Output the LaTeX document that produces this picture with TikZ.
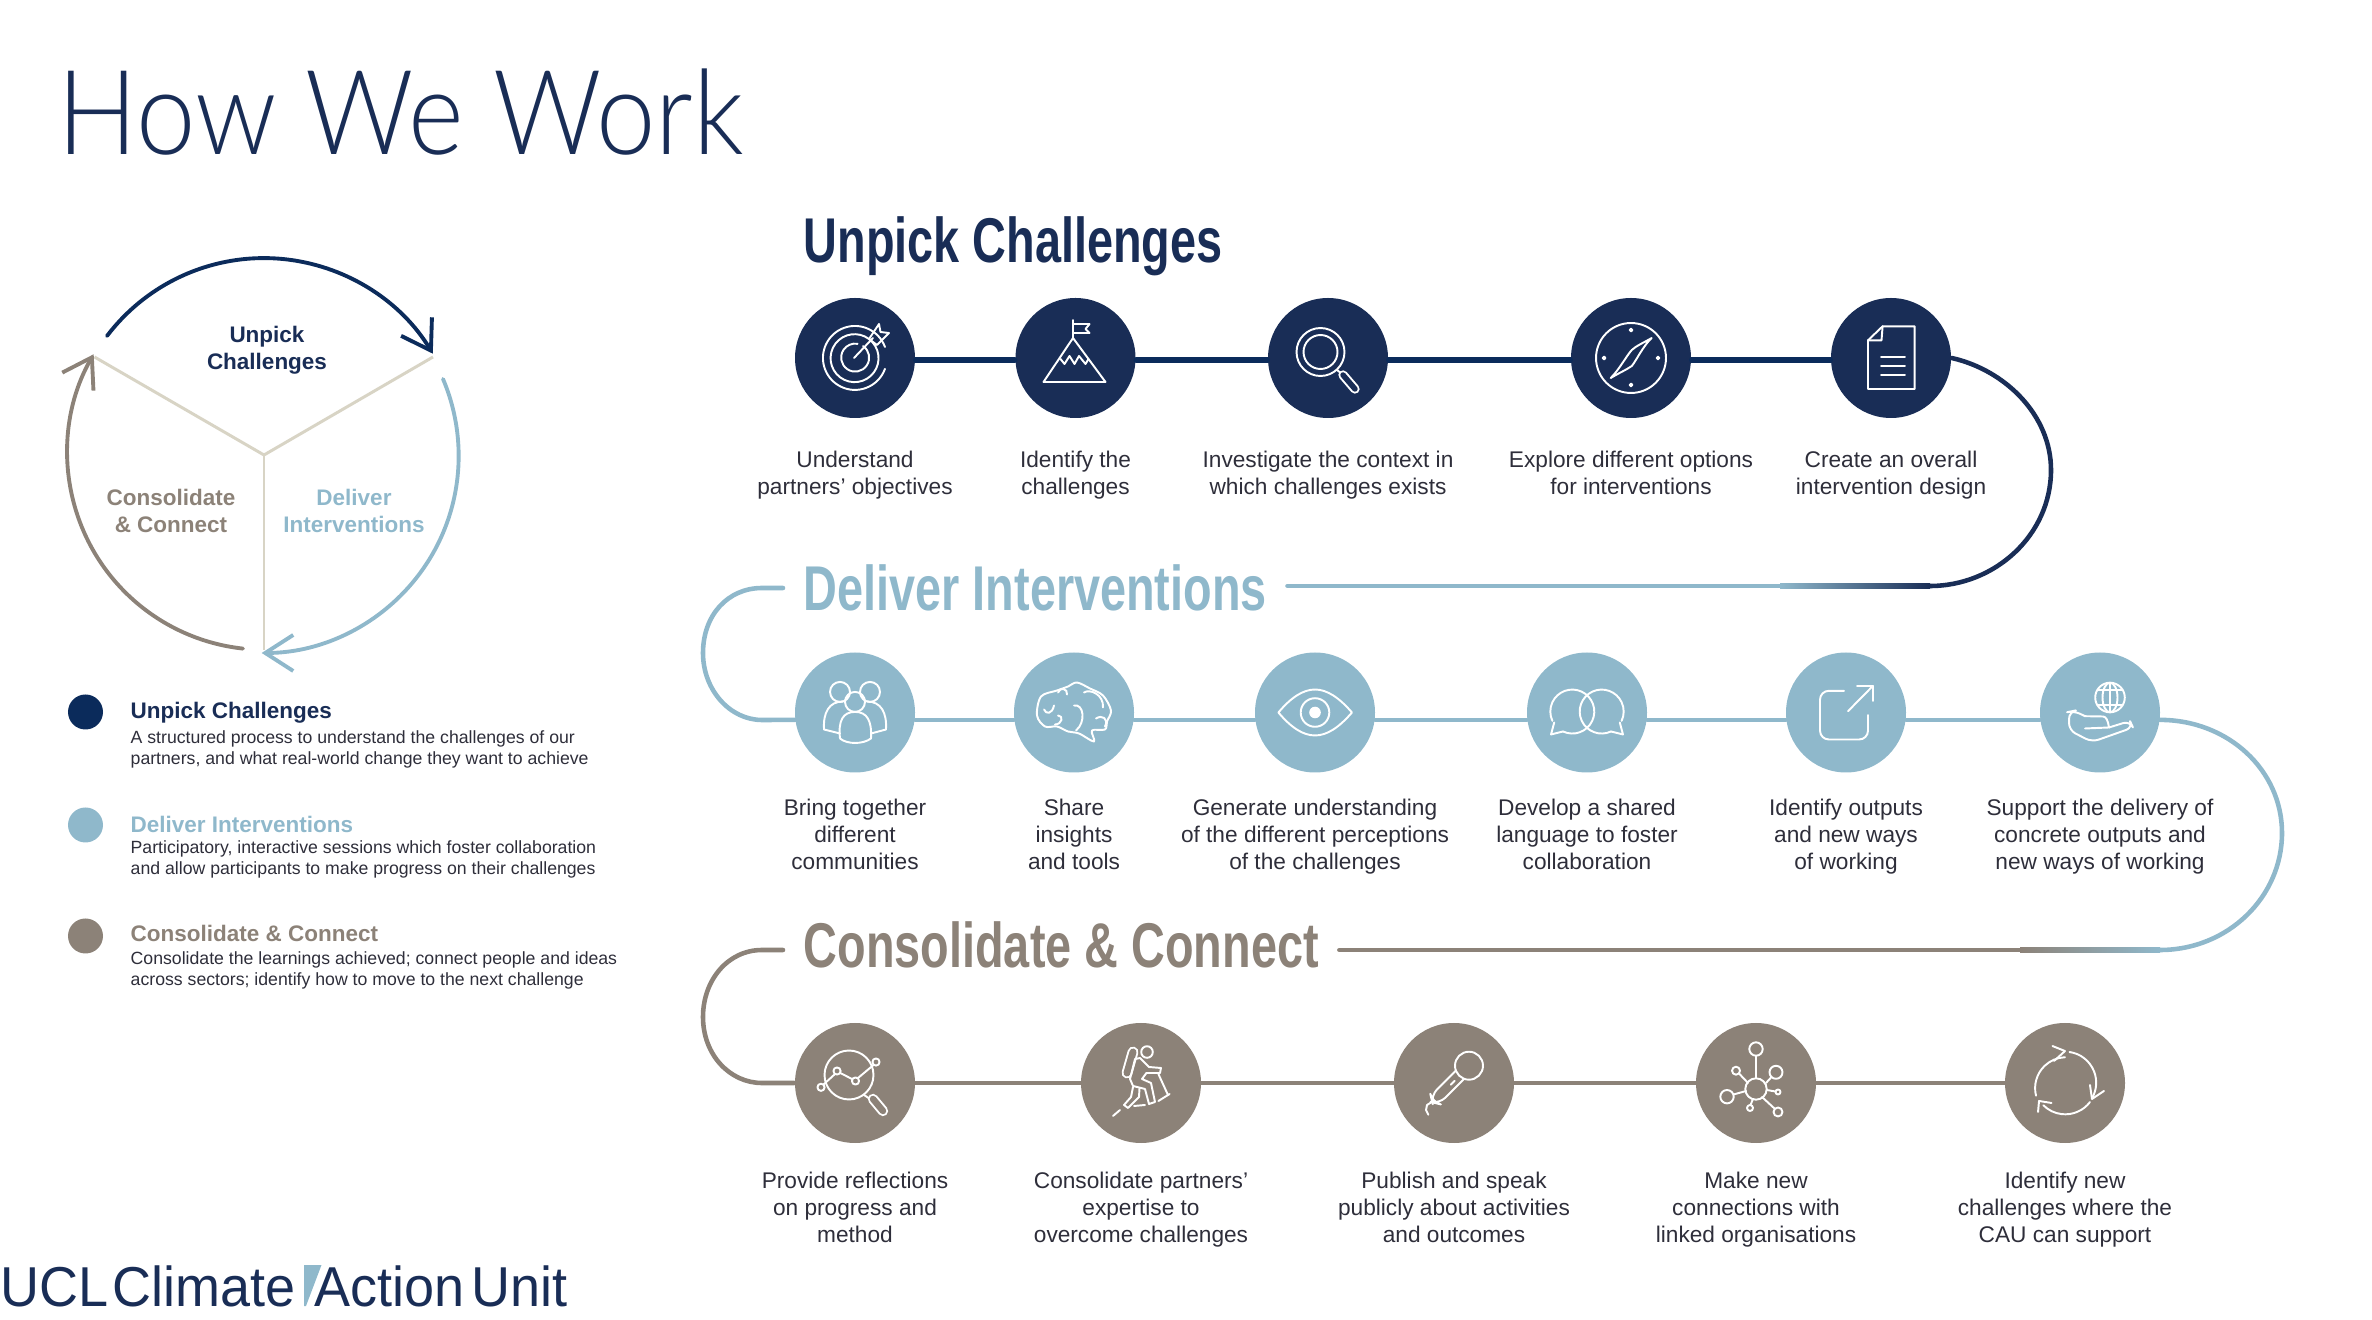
\documentclass[tikz,border=0pt]{standalone}
\usepackage{fontspec}
\usepackage{xcolor}
\usetikzlibrary{arrows.meta,positioning}
\setmainfont{Liberation Sans}
\newfontfamily\titlefont[FakeStretch=.905]{Lato Light}
\newfontfamily\headfont[FakeStretch=.74]{Liberation Sans}
\newfontfamily\logofont[FakeStretch=.96]{Liberation Sans}
\definecolor{navy}{HTML}{192D56}
\definecolor{navyline}{HTML}{0B2B5B}
\definecolor{sky}{HTML}{8FB8CB}
\definecolor{stone}{HTML}{8C8278}
\definecolor{sand}{HTML}{D8D4C5}
\definecolor{ink}{HTML}{2E2E3A}
\tikzset{
  stepdot/.style={circle, minimum size=1.2cm, inner sep=0pt, fill=#1},
  steplabel/.style={align=center, inner sep=0pt, text=ink, font=\fontsize{6.45}{7.68}\selectfont},
  heading/.style={anchor=west, inner sep=.2cm, font=\headfont\bfseries\fontsize{18}{20}\selectfont, text=#1},
  cyclelabel/.style={align=center, inner sep=0pt, text=#1, font=\bfseries\fontsize{6.4}{7.68}\selectfont},
  legendhead/.style={anchor=base west, inner sep=0pt, text=#1, font=\bfseries\fontsize{6.4}{7.68}\selectfont},
  legendtext/.style={anchor=north west, align=left, inner sep=0pt, text=ink, font=\fontsize{5.03}{5.85}\selectfont},
  legenddot/.style={circle, minimum size=.35cm, inner sep=0pt, fill=#1},
  logo/.style={anchor=base west, inner sep=0pt, text=navy, font=\logofont\fontsize{16}{18}\selectfont},
  flow/.style={draw=#1, line width=1.3pt, line cap=round},
  loopflow/.style={draw=#1, line width=1.1pt, line cap=round, -{Straight Barb[length=2.8mm, width=3.6mm, line width=1.1pt]}},
  spoke/.style={draw=sand, line width=.85pt},
  icon/.style={shift={(#1.center)}, x=.01cm, y=.01cm, white, line width=.55pt, line cap=round, line join=round},
  pill/.style={white, line width=.55pt, double=#1, double distance=.2cm, line cap=round}
}
\begin{document}
\begin{tikzpicture}[x=1cm,y=1cm]
  \useasboundingbox (0,0) rectangle (23.72,-13.2);

  \node[anchor=base west, inner sep=0pt, text=navy, font=\titlefont\fontsize{33.5}{36}\selectfont] (title) at (.57,-1.55) {How We Work};

  % cycle on the left
  \coordinate (hub) at (2.64,-4.55);
  \coordinate (hubleft) at (.945,-3.57);
  \coordinate (hubright) at (4.33,-3.57);
  \coordinate (hubdown) at (2.64,-6.5);
  \draw[spoke] (hubleft) -- (hub) -- (hubright);
  \draw[spoke] (hub) -- (hubdown);
  \coordinate (navystart) at (1.07,-3.36);
  \coordinate (skystart) at (4.43,-3.79);
  \coordinate (stonestart) at (2.43,-6.486);
  \draw[loopflow=navyline] (navystart) arc[start angle=142.8, end angle=31, radius=1.97];
  \draw[loopflow=sky] (skystart) arc[start angle=23, end angle=-90, radius=1.97];
  \draw[loopflow=stone] (stonestart) arc[start angle=263.8, end angle=150, radius=1.97];
  \node[cyclelabel=navy] (cycleunpick) at (2.67,-3.5) {Unpick\\Challenges};
  \node[cyclelabel=stone] (cycleconsolidate) at (1.71,-5.11) {Consolidate\\\& Connect};
  \node[cyclelabel=sky] (cycledeliver) at (3.54,-5.11) {Deliver\\Interventions};

  % legend
  \node[legenddot=navyline] (dotunpick) at (.855,-7.12) {};
  \node[legenddot=sky] (dotdeliver) at (.855,-8.25) {};
  \node[legenddot=stone] (dotconsolidate) at (.855,-9.36) {};
  \node[legendhead=navy] (legunpick) at (1.3,-7.19) {Unpick Challenges};
  \node[legendtext] (txtunpick) at (1.3,-7.3) {A structured process to understand the challenges of our\\partners, and what real-world change they want to achieve};
  \node[legendhead=sky] (legdeliver) at (1.3,-8.33) {Deliver Interventions};
  \node[legendtext] (txtdeliver) at (1.3,-8.4) {Participatory, interactive sessions which foster collaboration\\and allow participants to make progress on their challenges};
  \node[legendhead=stone] (legconsolidate) at (1.3,-9.41) {Consolidate \& Connect};
  \node[legendtext] (txtconsolidate) at (1.3,-9.51) {Consolidate the learnings achieved; connect people and ideas\\across sectors; identify how to move to the next challenge};

  % logo
  \node[logo] (logoucl) at (0,-13.06) {UCL};
  \node[logo] (logoclimate) at (1.12,-13.06) {Climate};
  \fill[sky] (3.04,-12.65) -- (3.215,-12.65) -- (3.06,-13.06) -- (3.04,-13.06) -- cycle;
  \node[logo] (logoaction) at (3.14,-13.06) {Action};
  \node[logo] (logounit) at (4.71,-13.06) {Unit};

  % headings
  \node[heading=navy] (unpickhead) at (7.83,-2.465) {Unpick Challenges};
  \node[heading=sky] (deliverhead) at (7.83,-5.88) {Deliver Interventions};
  \node[heading=stone] (consolidatehead) at (7.83,-9.45) {Consolidate \& Connect};

  % first row
  \node[stepdot=navy] (target) at (8.55,-3.58) {};
  \node[stepdot=navy] (summit) at (10.755,-3.58) {};
  \node[stepdot=navy] (lens) at (13.28,-3.58) {};
  \node[stepdot=navy] (compass) at (16.31,-3.58) {};
  \node[stepdot=navy] (brief) at (18.91,-3.58) {};
  \node[steplabel, below=.32cm of target] (targetlab) {Understand\\partners' objectives};
  \node[steplabel, below=.32cm of summit] (summitlab) {Identify the\\challenges};
  \node[steplabel, below=.32cm of lens] (lenslab) {Investigate the context in\\which challenges exists};
  \node[steplabel, below=.32cm of compass] (compasslab) {Explore different options\\for interventions};
  \node[steplabel, below=.32cm of brief] (brieflab) {Create an overall\\intervention design};

  % second row
  \node[stepdot=sky] (people) at (8.55,-7.125) {};
  \node[stepdot=sky] (brain) at (10.74,-7.125) {};
  \node[stepdot=sky] (eye) at (13.15,-7.125) {};
  \node[stepdot=sky] (bubbles) at (15.87,-7.125) {};
  \node[stepdot=sky] (outputs) at (18.46,-7.125) {};
  \node[stepdot=sky] (globe) at (21.0,-7.125) {};
  \node[steplabel, below=.25cm of people] (peoplelab) {Bring together\\different\\communities};
  \node[steplabel, below=.25cm of brain] (brainlab) {Share\\insights\\and tools};
  \node[steplabel, below=.25cm of eye] (eyelab) {Generate understanding\\of the different perceptions\\of the challenges};
  \node[steplabel, below=.25cm of bubbles] (bubbleslab) {Develop a shared\\language to foster\\collaboration};
  \node[steplabel, below=.25cm of outputs] (outputslab) {Identify outputs\\and new ways\\of working};
  \node[steplabel, below=.25cm of globe] (globelab) {Support the delivery of\\concrete outputs and\\new ways of working};

  % third row
  \node[stepdot=stone] (review) at (8.55,-10.83) {};
  \node[stepdot=stone] (hiker) at (11.41,-10.83) {};
  \node[stepdot=stone] (mic) at (14.54,-10.83) {};
  \node[stepdot=stone] (network) at (17.56,-10.83) {};
  \node[stepdot=stone] (cycle) at (20.65,-10.83) {};
  \node[steplabel, below=.28cm of review] (reviewlab) {Provide reflections\\on progress and\\method};
  \node[steplabel, below=.28cm of hiker] (hikerlab) {Consolidate partners'\\expertise to\\overcome challenges};
  \node[steplabel, below=.28cm of mic] (miclab) {Publish and speak\\publicly about activities\\and outcomes};
  \node[steplabel, below=.28cm of network] (networklab) {Make new\\connections with\\linked organisations};
  \node[steplabel, below=.28cm of cycle] (cyclelab) {Identify new\\challenges where the\\CAU can support};

  % connectors
  \draw[flow=navyline, line width=1.5pt] (target.-2) -- (summit.-178);
  \draw[flow=navyline, line width=1.5pt] (summit.-2) -- (lens.-178);
  \draw[flow=navyline, line width=1.5pt] (lens.-2) -- (compass.-178);
  \draw[flow=navyline, line width=1.5pt] (compass.-2) -- (brief.-178);
  \coordinate (navyend) at (19.30,-5.86);
  \coordinate (skyfade) at (17.8,-5.86);
  \draw[flow=navy] (brief.east) .. controls (20.05,-3.70) and (20.51,-4.15) .. (20.51,-4.70) .. controls (20.51,-5.35) and (19.95,-5.86) .. (navyend);
  \draw[flow=sky] (deliverhead.east |- skyfade) -- (skyfade);
  \shade[left color=sky, right color=navy] ([yshift=-.022cm]skyfade) rectangle ([yshift=.022cm]navyend);
  \draw[flow=sky] (deliverhead.west) -- (7.62,-5.88) .. controls (7.28,-5.88) and (7.03,-6.15) .. (7.03,-6.53) .. controls (7.03,-6.9) and (7.30,-7.2) .. (7.62,-7.2) -- (people.-173);
  \draw[flow=sky] (people.-7) -- (brain.-173);
  \draw[flow=sky] (brain.-7) -- (eye.-173);
  \draw[flow=sky] (eye.-7) -- (bubbles.-173);
  \draw[flow=sky] (bubbles.-7) -- (outputs.-173);
  \draw[flow=sky] (outputs.-7) -- (globe.-173);
  \coordinate (skyend) at (21.6,-9.5);
  \coordinate (stonefade) at (20.2,-9.5);
  \draw[flow=sky] (globe.-7) .. controls (22.28,-7.2) and (22.82,-7.7) .. (22.82,-8.33) .. controls (22.82,-8.97) and (22.28,-9.5) .. (skyend);
  \draw[flow=stone] (consolidatehead.east |- stonefade) -- (stonefade);
  \shade[left color=stone, right color=sky] ([yshift=-.022cm]stonefade) rectangle ([yshift=.022cm]skyend);
  \draw[flow=stone] (consolidatehead.west |- stonefade) -- (7.62,-9.5) .. controls (7.28,-9.5) and (7.03,-9.8) .. (7.03,-10.17) .. controls (7.03,-10.55) and (7.30,-10.83) .. (7.62,-10.83) -- (review);
  \draw[flow=stone] (review) -- (hiker);
  \draw[flow=stone] (hiker) -- (mic);
  \draw[flow=stone] (mic) -- (network);
  \draw[flow=stone] (network) -- (cycle);

  % icons, first row
  \begin{scope}[icon=target]
    \draw (30,11) arc[start angle=20, end angle=340, radius=32] ;
    \draw (14,19) arc[start angle=53, end angle=-307, radius=24];
    \draw (8,12) arc[start angle=56, end angle=-280, radius=14];
    \draw (-1,0) -- (18,20);
    \draw (14,19) -- (24,34) -- (25.5,26) -- (34,25) -- (22,13) -- cycle;
  \end{scope}
  \begin{scope}[icon=summit]
    \draw (-2.5,20) -- (-32,-24) -- (30,-24) -- cycle;
    \draw (-2.5,20) -- (-2.5,38);
    \draw (-2.5,34) -- (14,34) -- (10,29) -- (14,25) -- (-2.5,25);
    \draw (-15,-1) -- (-11,-6) -- (-6,2) -- (-1,-6) -- (3.5,2) -- (10,-6) -- (13,-1);
  \end{scope}
  \begin{scope}[icon=lens]
    \draw (-7.5,6) circle[radius=24];
    \draw (-7.5,6) circle[radius=17];
    \draw (9,-12) -- (14,-16);
    \draw[pill=navy, double distance=.055cm] (15,-17) -- (27,-31);
  \end{scope}
  \begin{scope}[icon=compass]
    \draw (0,0) circle[radius=35];
    \foreach \dotpos in {(0,28),(0,-27),(-27,0),(27,0)}
      \draw[line width=.5pt] \dotpos circle[radius=1.5];
    \draw (20.7,20) .. controls (12,15) and (5,12) .. (.8,8) .. controls (-4,3) and (-12,-12) .. (-20.3,-20) .. controls (-12,-15) and (-5,-12) .. (.8,-8) .. controls (5,-3) and (12,12) .. (20.7,20) -- cycle;
  \end{scope}
  \begin{scope}[icon=brief]
    \draw (-8.4,31.7) -- (23.7,31.7) -- (23.7,-31) -- (-23,-31) -- (-23,17.7) -- cycle;
    \draw (-8.4,31.7) -- (-9.5,17.7) -- (-23,17.7);
    \draw (-10,1) -- (14,1);
    \draw (-10,-8) -- (14,-8);
    \draw (-10,-17) -- (14,-17);
  \end{scope}

  % icons, second row
  \begin{scope}[icon=people]
    \draw (-15,20.6) circle[radius=10];
    \draw (15,20.6) circle[radius=10];
    \draw (0,10.6) circle[radius=10];
    \draw (-15,-26) .. controls (-17,-8) and (-12,.6) .. (0,.6) .. controls (12,.6) and (17,-8) .. (16,-26) .. controls (8,-32) and (-8,-32) .. (-15,-26);
    \draw (-31,-17) .. controls (-32,0) and (-26,11) .. (-12,11);
    \draw (-31,-17) -- (-15,-21);
    \draw (31,-17) .. controls (32,0) and (26,11) .. (12,11);
    \draw (31,-17) -- (16,-21);
  \end{scope}
  \begin{scope}[icon=brain]
    \draw plot[smooth cycle, tension=.55] coordinates {(-37,-3) (-33,16) (-17,22) (-6,26) (3,30) (16,24) (29,17) (37,2) (33,-9) (31,-17) (18,-18) (20,-29) (5,-21) (-6,-19) (-17,-14) (-29,-14)};
    \draw (-30,3) .. controls (-28,-2) and (-22,-2) .. (-20,7);
    \draw (-16,-3) .. controls (-10,-3) and (-12,-12) .. (-19,-12);
    \draw (0,7) .. controls (10,9) and (12,-10) .. (2,-18);
    \draw (-7,18) .. controls (-6,24) and (-14,26) .. (-16,20);
    \draw (10,20) .. controls (16,24) and (30,18) .. (29,5);
    \draw (22,-6) .. controls (28,-2) and (35,-6) .. (31,-14);
  \end{scope}
  \begin{scope}[icon=eye]
    \draw (-36.6,0) .. controls (-24,15) and (-12,23) .. (0,23) .. controls (12,23) and (24,15) .. (37,0) .. controls (24,-15) and (12,-23) .. (0,-23) .. controls (-12,-23) and (-24,-15) .. (-36.6,0) -- cycle;
    \draw (0,0) circle[radius=14.3];
    \fill (0,0) circle[radius=5.8];
  \end{scope}
  \begin{scope}[icon=bubbles]
    \draw (-24,-19) arc[start angle=-115, end angle=205, radius=22] ;
    \draw (-32.8,-10) -- (-36,-22) -- (-24,-19);
    \draw (24,-19) arc[start angle=-65, end angle=-385, radius=22];
    \draw (32.8,-10) -- (36,-22) -- (24,-19);
  \end{scope}
  \begin{scope}[icon=outputs]
    \draw[rounded corners=2.5pt] (-2,21.7) -- (-26,21.7) -- (-26,-27) -- (22,-27) -- (22,-2.7);
    \draw (2,1.3) -- (27,26.7);
    \draw (11,26.7) -- (27,26.7) -- (27,11.7);
  \end{scope}
  \begin{scope}[icon=globe]
    \draw (10,15) circle[radius=14.8];
    \draw (10,15) ellipse[x radius=7.5, y radius=14.8];
    \draw (10,29.8) -- (10,.2);
    \draw (-2.5,22.5) -- (22.5,22.5);
    \draw (-2.5,7.5) -- (22.5,7.5);
    \draw (-15,-16) -- (9,-15) .. controls (8,-8) and (6,-4) .. (3,-4) -- (-15,-3.7);
    \draw[rounded corners=2pt] (-15,-3.7) -- (-26,1.7) -- (-31,.7) -- (-31,-17.7) -- (-8,-29.5) -- (33,-15) -- (30,-8.5) -- (9,-15);
  \end{scope}

  % icons, third row
  \begin{scope}[icon=review]
    \draw (-6,8) circle[radius=24.5];
    \draw (9,-12) -- (15,-16);
    \draw[pill=stone, double distance=.065cm] (18,-16) -- (28,-28);
    \draw (-34,-4.3) circle[radius=3.6];
    \draw (-18,12) circle[radius=3.6];
    \draw (.5,2) circle[radius=3.6];
    \draw (21,21) circle[radius=3.6];
    \draw (-31.5,-1.5) -- (-20,9);
    \draw (-14.7,10) -- (-3,4);
    \draw (3,5) -- (18.5,18);
  \end{scope}
  \begin{scope}[icon=hiker]
    \draw (6,31) circle[radius=5.8];
    \draw[pill=stone, double distance=.07cm] (-8,31) -- (-14,10);
    \draw (-1,25) -- (8,16) -- (20,15) -- (19,10) -- (5.4,10) -- (1,4) -- (10,0) -- (14,-19) -- (8,-21) -- (4,-6) -- (-8,-3) -- (-11,4) -- (-6,24) -- cycle;
    \draw (-8,-4) -- (-10,-14) -- (-17,-22) -- (-13,-25) -- (-2,-14) -- (-1.5,-5);
    \draw (17.4,9) -- (27,-12);
    \draw (-28,-33) -- (-21,-27);
    \draw (-7,-23) -- (4,-22);
    \draw (17.4,-18) -- (28.6,-11);
  \end{scope}
  \begin{scope}[icon=mic]
    \draw (15,17.3) circle[radius=14];
    \draw[rounded corners=2.5pt] (1.7,12.3) -- (-23.3,-12.7) -- (-21.7,-19.3) -- (-15,-21) -- (10,4);
    \draw (-22.7,-19.3) -- (-27,-22) -- (-28,-27) -- (-25.7,-31.7);
    \draw (-3.3,-1.7) -- (.7,2.3);
  \end{scope}
  \begin{scope}[icon=network]
    \draw (0,-6) circle[radius=10.7];
    \draw (0,34) circle[radius=6.7];
    \draw (20,10.7) circle[radius=6.5];
    \draw (-20,12.3) circle[radius=4];
    \draw (-29,-13.7) circle[radius=6.7];
    \draw (22,-9) circle[radius=2.5];
    \draw (-6,-25) circle[radius=3];
    \draw (22,-29) circle[radius=4.5];
    \draw (0,27.3) -- (0,4.7);
    \draw (15.5,6) -- (10,0);
    \draw (-17,9.5) -- (-8,0);
    \draw (-22.5,-11.5) -- (-10,-8);
    \draw (19.5,-8.5) -- (10.7,-7);
    \draw (-5.5,-22) -- (-3,-16);
    \draw (19,-26) -- (6,-14);
  \end{scope}
  \begin{scope}[icon=cycle]
    \draw (-29,-12.7) arc[start angle=194, end angle=92, radius=31];
    \draw (-12.5,37) -- (0,32) -- (-11,22);
    \draw (4.5,31) arc[start angle=82, end angle=-30, radius=31];
    \draw (25,-2) -- (27,-16) -- (39,-8);
    \draw (25,-19) arc[start angle=-37, end angle=-135, radius=31];
    \draw (-27,-29) -- (-26,-18) -- (-13.5,-20);
  \end{scope}
\end{tikzpicture}
\end{document}
